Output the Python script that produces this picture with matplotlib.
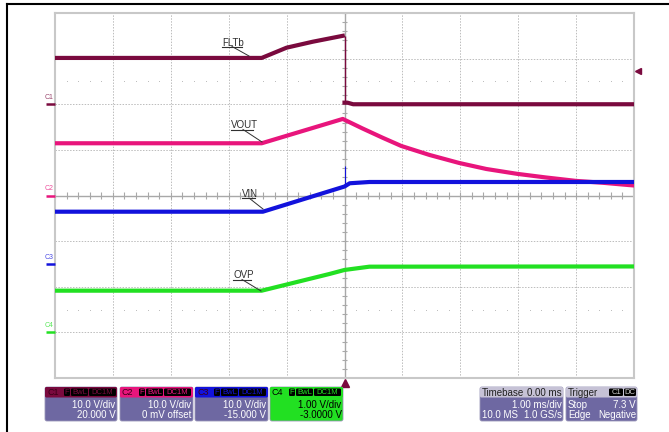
import matplotlib
matplotlib.use('Agg')
import matplotlib.pyplot as plt
from matplotlib.patches import FancyBboxPatch

plt.rcParams['font.family'] = ['Liberation Sans', 'DejaVu Sans']

# time in ms, values in volts
t_flt = [-5.0, -1.43, -1.0, -0.55, -0.03]
v_flt = [10.15, 10.15, 12.4, 13.7, 15.0]
t_flt_after = [0.0, 0.05, 0.15, 5.0]
v_flt_after = [0.35, 0.35, 0.0, 0.0]

t_vout = [-5.0, -1.43, -0.03, 0.31, 0.66, 0.98, 1.47, 1.98, 2.45, 2.98, 3.48, 4.0, 4.45, 4.9, 5.0]
v_vout = [11.45, 11.45, 16.78, 14.7, 12.65, 10.86, 8.88, 7.13, 5.81, 4.75, 3.95, 3.2, 2.8, 2.3, 2.2]

t_vin = [-5.0, -1.41, 0.0, 0.09, 0.43, 5.0]
v_vin = [11.45, 11.45, 16.97, 17.68, 17.96, 17.96]
t_vin_spike = 0.0
v_vin_spike = 21.5

t_ovp = [-5.0, -1.43, -0.26, 0.0, 0.43, 5.0]
v_ovp = [0.914, 0.914, 1.28, 1.368, 1.44, 1.445]

# channel setup: volts/div and zero position (div from centre)
vdiv = {'C1': 10.0, 'C2': 10.0, 'C3': 10.0, 'C4': 1.0}
zero = {'C1': 2.0, 'C2': 0.0, 'C3': -1.5, 'C4': -3.0}
colors = {'C1': '#7a0a3e', 'C2': '#e8157c', 'C3': '#1212dc', 'C4': '#22e022'}
trig_level = 7.3  # V on C1

box_lines = [('C1', '10.0 V/div', '20.000 V'),
             ('C2', '10.0 V/div', '0 mV offset'),
             ('C3', '10.0 V/div', '-15.000 V'),
             ('C4', '1.00 V/div', '-3.0000 V')]


def div(ch, v):
    return [x / vdiv[ch] + zero[ch] for x in v] if isinstance(v, list) else v / vdiv[ch] + zero[ch]


W, H = 669, 432
fig = plt.figure(figsize=(W / 100, H / 100), dpi=100)
fig.patch.set_facecolor('white')

ax = fig.add_axes([55 / W, 54 / H, 579 / W, 365 / H])
ax.set_xlim(-5, 5)
ax.set_ylim(-4, 4)
ax.set_xticks([])
ax.set_yticks([])
for s in ax.spines.values():
    s.set_color('#c8c8c8')
    s.set_linewidth(1.5)

# grid
for i in range(-4, 5):
    if i != 0:
        ax.axvline(i, color='#bcbcbc', lw=0.7, ls=(0, (1.5, 1.5)), zorder=1)
for j in range(-3, 4):
    if j != 0:
        ax.axhline(j, color='#bcbcbc', lw=0.7, ls=(0, (1.5, 1.5)), zorder=1)
ax.axhline(0, color='#a8a8a8', lw=1.0, zorder=1)
ax.axvline(0, color='#a8a8a8', lw=1.0, zorder=1)
minor_x = [k / 5 for k in range(-25, 26)]
minor_y = [k / 5 for k in range(-20, 21)]
ax.vlines(minor_x, -0.07, 0.07, color='#a8a8a8', lw=0.8, zorder=1)
ax.hlines(minor_y, -0.05, 0.05, color='#a8a8a8', lw=0.8, zorder=1)
dots = [x for x in minor_x if abs(x - round(x)) > 0.01]
for yy in (2.5, -2.5):
    ax.plot(dots, [yy] * len(dots), ls='none', marker='s', ms=0.6, mew=0, color='#b8b8b8', zorder=1)

# traces
lw = 3.0
ax.plot(t_flt, div('C1', v_flt), color=colors['C1'], lw=lw, zorder=3)
ax.plot(t_flt_after, div('C1', v_flt_after), color=colors['C1'], lw=lw, zorder=3)
ax.vlines(t_flt_after[0], div('C1', v_flt_after[-1]), div('C1', v_flt[-1]), color=colors['C1'], lw=1.0, zorder=3)
ax.plot(t_vout, div('C2', v_vout), color=colors['C2'], lw=lw, zorder=3)
ax.plot(t_vin, div('C3', v_vin), color=colors['C3'], lw=lw, zorder=4)
ax.vlines(t_vin_spike, div('C3', v_vin[2]), div('C3', v_vin_spike), color=colors['C3'], lw=0.8, zorder=4)
ax.plot(t_ovp, div('C4', v_ovp), color=colors['C4'], lw=lw, zorder=3)

# trigger markers
ax.plot([5.07], [div('C1', trig_level)], marker='<', ms=5, color=colors['C1'], clip_on=False)
ax.plot([0], [-4.12], marker='^', ms=6, color=colors['C1'], clip_on=False)

# overlay in pixel coordinates
ov = fig.add_axes([0, 0, 1, 1])
ov.set_xlim(0, W)
ov.set_ylim(H, 0)
ov.axis('off')
ov.patch.set_alpha(0)

ov.plot([6.5, 6.5], [4, H], color='black', lw=1.5)
ov.plot([6.5, W], [4, 4], color='black', lw=1.5)

# channel zero markers on the left
for ch in ['C1', 'C2', 'C3', 'C4']:
    yp = 195.5 - zero[ch] * 45.6
    ov.text(45, yp - 3, ch, color=colors[ch], fontsize=5, alpha=0.75, va='bottom', ha='left')
    ov.plot([46, 55], [yp, yp], color=colors[ch], lw=1.8, solid_capstyle='butt')

# trace labels with leader lines
labels = [('FLTb', 222, 242, 42.5, 232, 249, 56),
          ('VOUT', 231, 253, 125.5, 243, 262, 142),
          ('VIN', 242, 255, 194, 249, 263, 209),
          ('OVP', 233, 251, 275.5, 242, 261, 291)]
for txt, x0, x1, yc, lx, ex, ey in labels:
    ov.text(x0, yc, txt, fontsize=7, color='#303030', va='center', ha='left')
    ov.plot([x0, x1], [yc + 4, yc + 4], color='#303030', lw=0.8)
    ov.plot([lx, ex], [yc + 4, ey], color='#303030', lw=0.7)


def rbox(x0, y0, x1, y1, fc, r=2, ec='none', z=2):
    ov.add_patch(FancyBboxPatch((x0, y0), x1 - x0, y1 - y0,
                                boxstyle='round,pad=0,rounding_size=%g' % r,
                                fc=fc, ec=ec, lw=0.6, zorder=z))


body = '#6e68a2'
hdr_gray = '#c6c2d6'
y_top, y_hdr, y_bot = 387, 397.5, 421
box_x = [(45, 117), (120, 193), (195, 268), (270, 343)]

for (ch, l1, l2), (x0, x1) in zip(box_lines, box_x):
    c = colors[ch]
    green = ch == 'C4'
    rbox(x0, y_top, x1, y_bot, c if green else body, ec='#9a96b8')
    rbox(x0, y_top, x1, y_hdr, c, r=1.5)
    ov.text(x0 + 2, (y_top + y_hdr) / 2 + 0.5, ch, fontsize=6.5,
            color='black' if green else '#3a0018', va='center', ha='left')
    for lab, a, b in [('F', 19, 25), ('BwL', 26, 43), ('DC1M', 44, 71)]:
        rbox(x0 + a, y_top + 1.5, x0 + b, y_hdr - 1.5, 'black', r=1.2, z=3)
        ov.text(x0 + (a + b) / 2, (y_top + y_hdr) / 2 + 0.3, lab, fontsize=5.5,
                color=c, va='center', ha='center', zorder=4)
    tc = 'black' if green else 'white'
    ov.text(x1 - 1.5, 404.5, l1, fontsize=7, color=tc, va='center', ha='right', zorder=4)
    ov.text(x1 - 1.5, 414.5, l2, fontsize=7, color=tc, va='center', ha='right', zorder=4)

# timebase box
rbox(480, y_top, 563, y_bot, body, ec='#9a96b8')
rbox(480, y_top, 563, y_hdr, hdr_gray, r=1.5)
ov.text(482, 392.5, 'Timebase', fontsize=7, color='#202020', va='center', ha='left', zorder=4)
ov.text(562, 392.5, '0.00 ms', fontsize=7, color='#202020', va='center', ha='right', zorder=4)
ov.text(562, 404.5, '1.00 ms/div', fontsize=7, color='white', va='center', ha='right', zorder=4)
ov.text(482, 414.5, '10.0 MS', fontsize=7, color='white', va='center', ha='left', zorder=4)
ov.text(562, 414.5, '1.0 GS/s', fontsize=7, color='white', va='center', ha='right', zorder=4)

# trigger box
rbox(566, y_top, 637, y_bot, body, ec='#9a96b8')
rbox(566, y_top, 637, y_hdr, hdr_gray, r=1.5)
ov.text(568, 392.5, 'Trigger', fontsize=7, color='#202020', va='center', ha='left', zorder=4)
for lab, a, b in [('C1', 609, 623), ('DC', 624, 636)]:
    rbox(a, y_top + 1.5, b, y_hdr - 1.5, 'black', r=1.2, z=3)
    ov.text((a + b) / 2, 392.5, lab, fontsize=5.5, color='#d0d0d0', va='center', ha='center', zorder=4)
ov.text(568, 404.5, 'Stop', fontsize=7, color='white', va='center', ha='left', zorder=4)
ov.text(636, 404.5, '%.1f V' % trig_level, fontsize=7, color='white', va='center', ha='right', zorder=4)
ov.text(568, 414.5, 'Edge', fontsize=7, color='white', va='center', ha='left', zorder=4)
ov.text(636, 414.5, 'Negative', fontsize=7, color='white', va='center', ha='right', zorder=4)

fig.savefig('out.png', dpi=100)
